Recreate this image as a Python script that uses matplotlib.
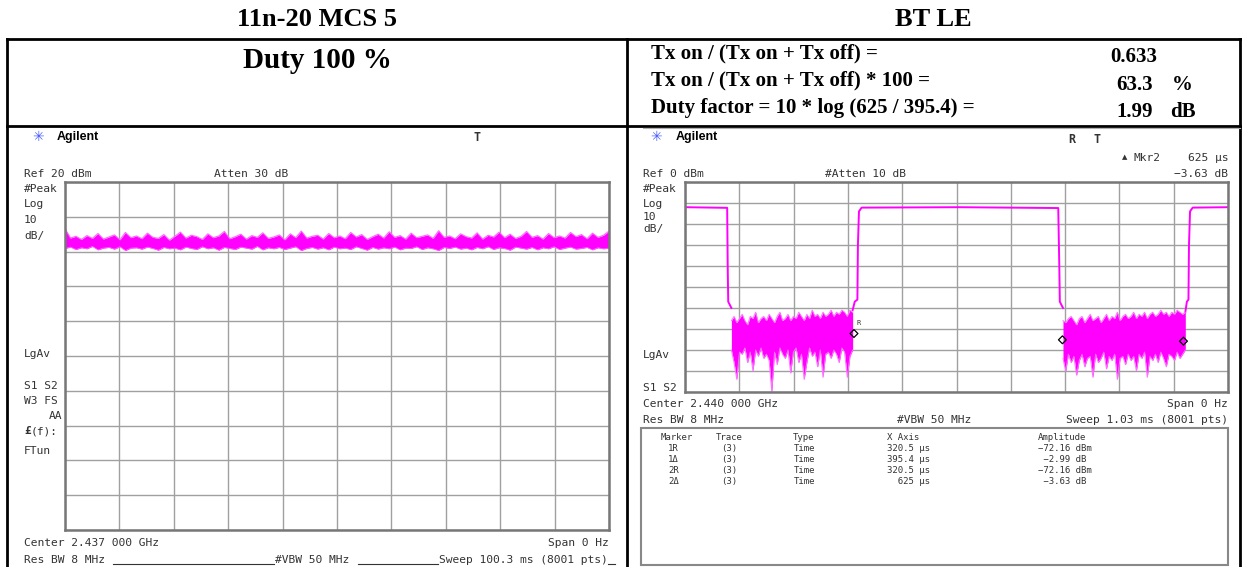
import numpy as np
import matplotlib
matplotlib.use("Agg")
import matplotlib.pyplot as plt
from matplotlib.patches import Rectangle

W, H = 1244, 567

# ---- data read from the two analyzer screens ----
left_sweep_ms = 100.3
left_ref_dbm = 20
# 11n-20 MCS 5 trace: upper and lower edge of the noisy band (dBm)
left_peak = [6.6, 3.9, 4.4, 3.5, 4.6, 3.8, 5.2, 3.6, 4.2, 4.8, 3.4, 5.5, 4.0, 4.5, 3.7, 5.3, 4.1, 3.8, 4.9, 3.3,
             4.4, 5.6, 3.9, 4.7, 4.3, 3.5, 5.1, 4.0, 4.5, 5.8, 3.7, 4.3, 5.0, 3.6, 4.6, 4.1, 5.4, 3.8, 4.2, 4.8,
             3.4, 5.1, 4.0, 5.9, 3.9, 4.4, 4.7, 3.6, 5.2, 4.0, 4.5, 3.7, 5.5, 4.2, 4.9, 3.5, 4.3, 5.0, 3.9, 5.7,
             4.1, 4.6, 3.6, 5.3, 4.0, 4.4, 4.8, 3.8, 6.0, 4.1, 4.5, 3.7, 5.1, 4.3, 3.9, 5.4, 3.6, 4.7, 4.2, 5.6,
             4.0, 5.0, 3.8, 4.4, 5.8, 4.1, 4.6, 3.6, 5.2, 4.0, 4.5, 3.9, 5.5, 4.3, 4.9, 3.7, 5.3, 4.1, 4.7, 5.9]
left_trough = [0.9, 1.3, 0.6, 1.1, 0.8, 1.5, 0.5, 1.0, 1.2, 0.7, 1.4, 0.3, 1.0, 1.1, 0.7, 1.3, 0.9, 0.4, 1.2, 0.8,
               1.0, 0.5, 1.3, 0.9, 0.6, 1.4, 0.8, 1.1, 0.4, 1.2, 0.9, 0.6, 1.3, 1.0, 0.7, 1.5, 0.5, 1.1, 0.8, 1.2,
               0.6, 1.0, 1.4, 0.3, 0.9, 1.2, 0.7, 1.1, 0.5, 1.3, 0.8, 1.0, 0.6, 1.4, 0.9, 0.4, 1.2, 0.7, 1.1, 0.8,
               1.3, 0.5, 1.0, 0.9, 1.4, 0.6, 1.1, 0.8, 0.3, 1.2, 0.9, 1.3, 0.7, 1.0, 0.5, 1.2, 0.8, 1.4, 0.6, 1.1,
               0.9, 0.4, 1.3, 1.0, 0.7, 1.2, 0.5, 1.1, 0.8, 1.4, 0.6, 1.0, 1.3, 0.7, 0.9, 1.2, 0.5, 1.1, 0.8, 1.0]

right_sweep_us = 1030
right_ref_dbm = 0
# BT LE burst: on/off edges (time in us, level in dBm), nan = gap where the noise floor is
bt_line_t = [0, 80, 81, 82, 88, np.nan, 318, 322, 327, 328, 330, 335, 520, 708, 710, 711, 717, np.nan,
             949, 952, 955, 956, 958, 963, 1030]
bt_line_db = [-12.0, -12.3, -40, -57, -60, np.nan, -61, -57, -56, -30, -14, -12.2, -12.0, -12.4, -40, -57, -60, np.nan,
              -62, -57, -56, -30, -14, -12.2, -12.0]
# noise floor between bursts
noise1_span = (88, 318)
noise1_peak = [-66, -64, -67, -65, -63, -66, -68, -64, -65, -62, -67, -65, -64, -66, -63, -65, -67, -64, -62, -66,
               -65, -63, -66, -64, -65, -62, -64, -66, -63, -65, -61, -64, -63, -65, -62, -64, -63, -61, -64, -62,
               -63, -61, -62, -64, -61, -62]
noise1_trough = [-80, -86, -94, -81, -82, -79, -86, -81, -90, -80, -83, -79, -84, -82, -85, -100, -81, -87, -79, -82,
                 -84, -80, -91, -81, -79, -86, -82, -94, -86, -79, -83, -81, -88, -80, -93, -82, -81, -84, -80, -82,
                 -86, -79, -81, -93, -83, -80]
noise2_span = (717, 949)
noise2_peak = [-66, -67, -65, -64, -66, -68, -65, -64, -67, -65, -63, -66, -65, -64, -67, -65, -63, -66, -64, -65,
               -62, -66, -64, -63, -65, -64, -62, -65, -63, -64, -62, -65, -63, -62, -64, -63, -61, -63, -62, -64,
               -62, -63, -61, -62, -63, -62]
noise2_trough = [-84, -90, -82, -86, -83, -92, -85, -82, -88, -84, -83, -93, -82, -86, -84, -81, -89, -83, -85, -82,
                 -94, -84, -83, -87, -82, -85, -83, -90, -82, -84, -81, -93, -83, -85, -82, -86, -81, -84, -88, -82,
                 -83, -85, -81, -84, -82, -80]

# marker table
marker_names = ["1R", "1\u0394", "2R", "2\u0394"]
marker_x_us = [320.5, 395.4, 320.5, 625]
marker_amp = [-72.16, -2.99, -72.16, -3.63]
marker_units = ["dBm", "dB", "dBm", "dB"]

# duty cycle summary
duty_labels = ["Tx on / (Tx on + Tx off) =", "Tx on / (Tx on + Tx off) * 100 =",
               "Duty factor = 10 * log (625 / 395.4) ="]
duty_values = ["0.633", "63.3", "1.99"]
duty_units = ["", "%", "dB"]

MONO = "DejaVu Sans Mono"
SERIF = "Liberation Serif"
MAG = "#ff00ff"
TXT = "#333333"

fig = plt.figure(figsize=(W / 100, H / 100), dpi=100)
bg = fig.add_axes([0, 0, 1, 1])
bg.set_xlim(0, W)
bg.set_ylim(H, 0)
bg.axis("off")


def px_box(x0, y0, x1, y1):
    return [x0 / W, 1 - y1 / H, (x1 - x0) / W, (y1 - y0) / H]


def lab(x, y, s, ha="left", size=8.1, **kw):
    # y is the middle of the capitals; put the baseline below it so every row lines up
    base = y + 0.365 * size * 100 / 72
    bg.text(x, base, s, ha=ha, va="baseline", family=MONO, fontsize=size, color=TXT, **kw)


# table frame
for xs, ys in [((7, 1240), (39, 39)), ((7, 1240), (126, 126)),
               ((7, 7), (39, 567)), ((627, 627), (39, 567)), ((1240, 1240), (39, 567))]:
    bg.plot(xs, ys, color="black", lw=2, solid_capstyle="projecting")
bg.plot((643, 1240), (128, 128), color="#b0b0b0", lw=0.8)

bg.text(317, 19, "11n-20 MCS 5", ha="center", va="center", family=SERIF, fontsize=19, weight="bold")
bg.text(933, 19, "BT LE", ha="center", va="center", family=SERIF, fontsize=19, weight="bold")
bg.text(317, 60, "Duty 100 %", ha="center", va="center", family=SERIF, fontsize=21, weight="bold")

for i, (lbl, val, unit) in enumerate(zip(duty_labels, duty_values, duty_units)):
    y = 53 + i * 27.5
    bg.text(651, y, lbl, ha="left", va="center", family=SERIF, fontsize=15, weight="bold")
    vx = 1110 if i == 0 else 1116
    bg.text(vx, y + 4, val, ha="left", va="center", family=SERIF, fontsize=15, weight="bold")
    if unit:
        bg.text(1172 if unit == "%" else 1170, y + 4, unit, ha="left", va="center",
                family=SERIF, fontsize=15, weight="bold")


def screen(x0, y0, x1, y1, sweep, ref):
    ax = fig.add_axes(px_box(x0, y0, x1, y1))
    ax.set_xlim(0, sweep)
    ax.set_ylim(ref - 100, ref)
    ax.set_xticks(np.linspace(0, sweep, 11))
    ax.set_yticks(np.arange(ref - 100, ref + 1, 10))
    ax.tick_params(length=0, labelbottom=False, labelleft=False)
    ax.grid(True, color="#a0a0a0", lw=1.0)
    ax.set_axisbelow(True)
    for s in ax.spines.values():
        s.set_color("#777777")
        s.set_linewidth(1.8)
    return ax


# ---- left screen: 11n-20 MCS 5 ----
ax1 = screen(65, 182, 609, 530, left_sweep_ms, left_ref_dbm)
t1 = np.linspace(0, left_sweep_ms, len(left_peak))
ax1.fill_between(t1, left_trough, left_peak, color=MAG, lw=0)
ax1.plot(t1, left_peak, color="#ff60ff", lw=0.8)
ax1.plot(t1, left_trough, color="#ff60ff", lw=0.6)

bg.text(38, 137, "\u2733", ha="center", va="center", color="#4a5cff", fontsize=10, family="DejaVu Sans")
bg.text(57, 137, "Agilent", ha="left", va="center", family="Liberation Sans", weight="bold", fontsize=9)
lab(474, 137, "T", size=8.5, weight="bold")
lab(24, 173, "Ref 20 dBm")
lab(214, 173, "Atten 30 dB")
for y, s in zip([188, 203, 219, 235], ["#Peak", "Log", "10", "dB/"]):
    lab(24, y, s)
lab(24, 353, "LgAv")
lab(24, 385, "S1 S2")
lab(24, 400, "W3 FS")
lab(62, 415, "AA", ha="right")
lab(24, 430, "\u00a3", weight="bold")
lab(31, 430, "(f):")
lab(24, 450, "FTun")
lab(24, 542, "Center 2.437 000 GHz")
lab(609, 542, "Span 0 Hz", ha="right")
lab(24, 559, "Res BW 8 MHz")
lab(275, 559, "#VBW 50 MHz")
lab(439, 559, "Sweep 100.3 ms (8001 pts)")
for xs in [(113, 274), (358, 438), (608, 615)]:
    bg.plot(xs, (564, 564), color=TXT, lw=0.8)

# ---- right screen: BT LE ----
ax2 = screen(685, 182, 1228, 392, right_sweep_us, right_ref_dbm)
ax2.plot(bt_line_t, bt_line_db, color=MAG, lw=1.4)
for span, pk, tr in [(noise1_span, noise1_peak, noise1_trough), (noise2_span, noise2_peak, noise2_trough)]:
    tn = np.linspace(span[0], span[1], len(pk))
    ax2.fill_between(tn, tr, pk, color=MAG, lw=0)
    ax2.plot(tn, tr, color="#ff70ff", lw=0.7)
    ax2.plot(tn, pk, color="#ff70ff", lw=0.7)

# marker diamonds: deltas are relative to 1R / 2R
ref_x, ref_amp = marker_x_us[0], marker_amp[0]
mk_x = [ref_x, ref_x + marker_x_us[1], ref_x + marker_x_us[3]]
mk_y = [ref_amp, ref_amp + marker_amp[1], ref_amp + marker_amp[3]]
ax2.scatter(mk_x, mk_y, marker="D", s=16, facecolor="none", edgecolor="black", lw=0.9, zorder=5)
ax2.annotate("R", (mk_x[0], mk_y[0]), xytext=(2, 6), textcoords="offset points",
             fontsize=5, family=MONO, color=TXT)

bg.text(656, 137, "\u2733", ha="center", va="center", color="#4a5cff", fontsize=10, family="DejaVu Sans")
bg.text(676, 137, "Agilent", ha="left", va="center", family="Liberation Sans", weight="bold", fontsize=9)
lab(1068, 139, "R", size=8.5, weight="bold")
lab(1094, 139, "T", size=8.5, weight="bold")
bg.text(1122, 157, "\u25b2", ha="left", va="center", fontsize=5, family="DejaVu Sans", color=TXT)
lab(1133, 157, "Mkr2")
lab(1228, 157, "625 \u00b5s", ha="right")
lab(643, 173, "Ref 0 dBm")
lab(825, 173, "#Atten 10 dB")
lab(1228, 173, "\u22123.63 dB", ha="right")
for y, s in zip([188, 203, 216, 228], ["#Peak", "Log", "10", "dB/"]):
    lab(643, y, s)
lab(643, 354, "LgAv")
lab(643, 387, "S1 S2")
lab(643, 403, "Center 2.440 000 GHz")
lab(1228, 403, "Span 0 Hz", ha="right")
lab(643, 419, "Res BW 8 MHz")
lab(897, 419, "#VBW 50 MHz")
lab(1228, 419, "Sweep 1.03 ms (8001 pts)", ha="right")

bg.add_patch(Rectangle((641, 428), 587, 137, fill=False, ec="#888888", lw=1.5))
hdr_y = 437
for x, s in [(661, "Marker"), (716, "Trace"), (793, "Type"), (887, "X Axis"), (1038, "Amplitude")]:
    lab(x, hdr_y, s, size=6.5)
for i, (nm, xv, amp, unit) in enumerate(zip(marker_names, marker_x_us, marker_amp, marker_units)):
    y = 448 + i * 11
    lab(668, y, nm, size=6.5)
    lab(721, y, "(3)", size=6.5)
    lab(794, y, "Time", size=6.5)
    lab(887, y, f"{xv:>5g} \u00b5s", size=6.5)
    lab(1038, y, f"{amp:>6.2f} {unit}".replace("-", "\u2212"), size=6.5)

fig.savefig("out.png", dpi=100)
